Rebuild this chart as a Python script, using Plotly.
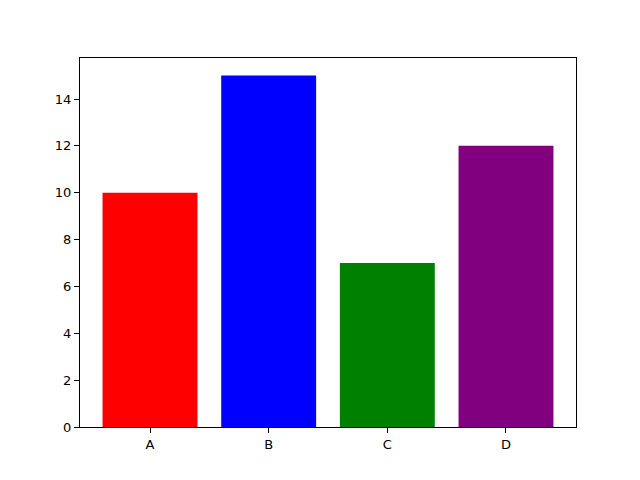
import plotly.graph_objects as go

categories = ["A", "B", "C", "D"]
values = [10, 15, 7, 12]
bar_colors = ["red", "blue", "green", "purple"]
y_ticks = [0, 2, 4, 6, 8, 10, 12, 14]

positions = list(range(len(categories)))

fig = go.Figure()
fig.add_trace(
    go.Bar(
        x=positions,
        y=values,
        width=0.8,
        marker=dict(color=bar_colors, line=dict(width=0)),
        showlegend=False,
    )
)

axis_style = dict(
    showline=True,
    linecolor="black",
    linewidth=1,
    mirror=True,
    ticks="outside",
    ticklen=5,
    tickwidth=1,
    tickcolor="black",
    showgrid=False,
    zeroline=False,
    tickfont=dict(family="DejaVu Sans", size=13, color="black"),
)

# page body has an 8px offset, so the figure is shrunk to keep the axes in place
fig.update_layout(
    width=632,
    height=472,
    margin=dict(l=72, r=64, t=50, b=53),
    paper_bgcolor="white",
    plot_bgcolor="white",
    xaxis=dict(
        range=[-0.59, 3.59],
        tickvals=positions,
        ticktext=categories,
        **axis_style,
    ),
    yaxis=dict(
        range=[0, 15.75],
        tickvals=y_ticks,
        **axis_style,
    ),
)

fig.write_html("out.html")
